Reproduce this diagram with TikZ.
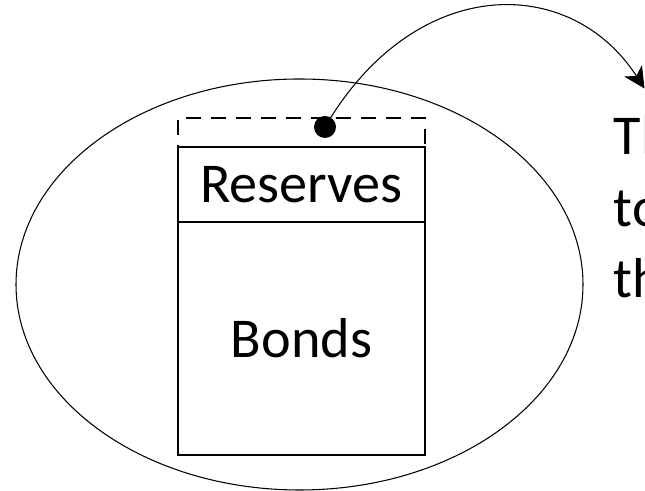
\documentclass[tikz,border=0pt]{standalone}
\usepackage{fontspec}
\setmainfont{Carlito}
\usetikzlibrary{arrows.meta,shapes.geometric}

\tikzset{
  line/.style={line width=0.6pt},
  slot/.style={line,draw,rectangle,minimum width=4.94cm,inner sep=0pt},
  dot/.style={circle,fill=black,inner sep=0pt,minimum size=0.44cm},
  bigtext/.style={font=\fontsize{32pt}{40.8pt}\selectfont}
}

\begin{document}
\begin{tikzpicture}
      \clip (0,0) rectangle (12.9,9.82);

      \node[line,draw,ellipse,minimum width=11.34cm,minimum height=8.22cm,inner sep=0pt] (bank) at (5.99,4.13) {};

      \node[slot,minimum height=0.58cm,dash pattern=on 0.3cm off 0.2cm] (spare) at (6.03,7.17) {};
      \node[slot,minimum height=1.5cm,bigtext] (reserves) at (6.03,6.13) {Reserves};
      \node[slot,minimum height=4.66cm,bigtext] (bonds) at (6.03,3.05) {Bonds};

      \node[dot] (hole) at (6.5,7.28) {};
      \coordinate (tip) at (12.89,8.05);
      \draw[line,-{Stealth[length=4.2mm,width=4.2mm,inset=1.2mm]}] (hole.center) .. controls (8.3,10.35) and (11.4,10.35) .. (tip);

      % text running off the right edge
      \node[bigtext,anchor=base west,inner sep=0pt] (line1) at (12.27,6.72) {Th};
      \node[bigtext,anchor=base west,inner sep=0pt] (line2) at (12.27,5.28) {to};
      \node[bigtext,anchor=base west,inner sep=0pt] (line3) at (12.27,3.86) {th};
    \end{tikzpicture}
\end{document}
